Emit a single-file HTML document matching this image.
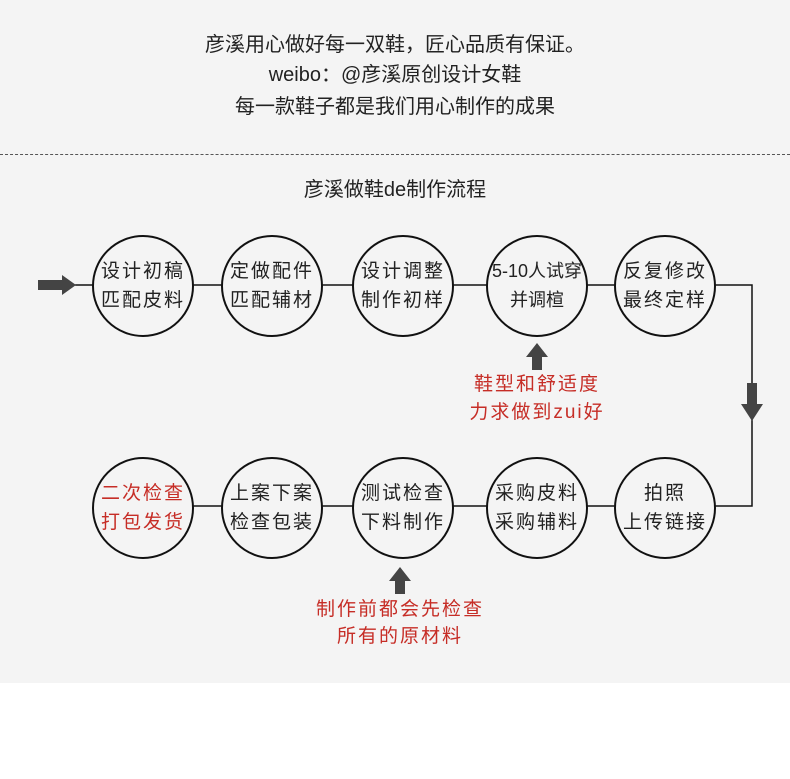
<!DOCTYPE html>
<html><head><meta charset="utf-8"><style>
body{margin:0;width:790px;height:779px;background:#fff;position:relative;font-family:"Liberation Sans","Noto Sans CJK SC",sans-serif;overflow:hidden}
.bg{position:absolute;left:0;top:0;width:790px;height:683px;background:#f4f4f4}
.t{position:absolute;left:0;width:790px;text-align:center;color:#222;font-size:19px;line-height:24px}
.dash{position:absolute;left:0;top:154px;width:790px;border-top:1px dashed #555}
.c{position:absolute;width:98px;height:98px;border:2px solid #111;border-radius:50%;background:#f4f4f4;display:flex;align-items:center;justify-content:center;text-align:center;font-size:19px;letter-spacing:2px;line-height:29px;color:#222;white-space:nowrap}
.red{color:#c62d26}
.cap{letter-spacing:2px;font-size:19px}
</style></head><body>
<div class="bg"></div>
<div class="t" style="top:33px;font-size:20px">彦溪用心做好每一双鞋，匠心品质有保证。</div>
<div class="t" style="top:63px;font-size:20px">weibo：@彦溪原创设计女鞋</div>
<div class="t" style="top:95px;font-size:20px">每一款鞋子都是我们用心制作的成果</div>
<div class="dash"></div>
<div class="t" style="top:178px;font-size:20px">彦溪做鞋de制作流程</div>
<svg style="position:absolute;left:0;top:0" width="790" height="779">
<line x1="75" y1="285" x2="665" y2="285" stroke="#111" stroke-width="1.5"/>
<polyline points="665,285 752,285 752,506 665,506" fill="none" stroke="#111" stroke-width="1.5"/>
<line x1="143" y1="506" x2="665" y2="506" stroke="#111" stroke-width="1.5"/>
<polygon points="38,280 62,280 62,275 76,285 62,295 62,290 38,290" fill="#444"/>
<polygon points="747,383 757,383 757,404 763,404 752,421 741,404 747,404" fill="#444"/>
<polygon points="537,343 548,357 542,357 542,370 532,370 532,357 526,357" fill="#444"/>
<polygon points="400,567 411,581 405,581 405,594 395,594 395,581 389,581" fill="#444"/>
</svg>
<div class="c" style="left:92px;top:235px">设计初稿<br>匹配皮料</div>
<div class="c" style="left:221px;top:235px">定做配件<br>匹配辅材</div>
<div class="c" style="left:352px;top:235px">设计调整<br>制作初样</div>
<div class="c" style="left:486px;top:235px;letter-spacing:0;font-size:18px">5-10人试穿<br>并调楦</div>
<div class="c" style="left:614px;top:235px">反复修改<br>最终定样</div>
<div class="c" style="left:92px;top:457px"><span class="red">二次检查<br>打包发货</span></div>
<div class="c" style="left:221px;top:457px">上案下案<br>检查包装</div>
<div class="c" style="left:352px;top:457px">测试检查<br>下料制作</div>
<div class="c" style="left:486px;top:457px">采购皮料<br>采购辅料</div>
<div class="c" style="left:614px;top:457px">拍照<br>上传链接</div>
<div class="t red cap" style="top:373px;left:437px;width:200px">鞋型和舒适度</div>
<div class="t red cap" style="top:401px;left:437px;width:200px">力求做到zui好</div>
<div class="t red cap" style="top:598px;left:300px;width:200px">制作前都会先检查</div>
<div class="t red cap" style="top:625px;left:300px;width:200px">所有的原材料</div>
</body></html>
